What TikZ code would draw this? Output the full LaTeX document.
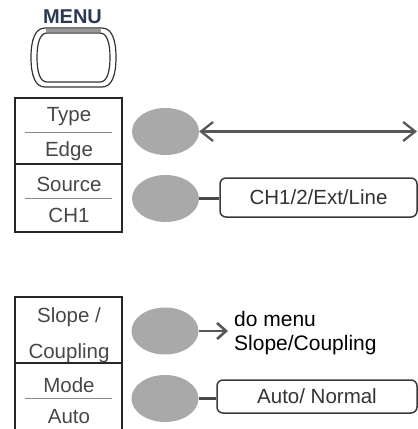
\documentclass[tikz,border=0pt]{standalone}
\usepackage{fontspec}
\setmainfont{Liberation Sans}
\usetikzlibrary{shapes.geometric,arrows.meta}
\definecolor{txtgray}{HTML}{474747}
\definecolor{txtdark}{HTML}{333333}
\definecolor{btngray}{HTML}{A9A9A9}
\definecolor{boxgray}{HTML}{3A3A3A}
\definecolor{linkgray}{HTML}{4A4A4A}
\definecolor{arrgray}{HTML}{575757}
\definecolor{sepgray}{HTML}{8A8A8A}
\definecolor{menublue}{HTML}{2B3A52}
\begin{document}
\begin{tikzpicture}[x=1pt,y=-1pt,
  boxtxt/.style={font=\fontsize{20.5}{24}\selectfont, text=txtgray, inner sep=0pt, anchor=base},
  btn/.style={ellipse, fill=btngray, draw=none, minimum width=67pt, minimum height=47pt, inner sep=0pt},
  choice/.style={draw=boxgray, line width=1.5pt, rounded corners=6pt, inner sep=0pt,
    font=\fontsize{20.5}{24}\selectfont, text=txtdark},
  link/.style={draw=linkgray, line width=3pt},
  arr/.style={draw=arrgray, line width=2.3pt},
  frame/.style={draw=black!85, line width=1.5pt},
  sep/.style={draw=sepgray, line width=1pt}]
\useasboundingbox (0,0) rectangle (418,429);

% MENU key
\node[font=\bfseries\fontsize{20}{22}\selectfont, text=menublue, inner sep=0pt, anchor=base] (menu) at (72.5,23) {MENU};
\draw[line width=1.2pt, draw=black!80]
  (45,28) -- (102,28) .. controls (112,28) and (116,40) .. (116,57.5)
  .. controls (116,75) and (112,87) .. (102,87) -- (45,87)
  .. controls (35,87) and (31,75) .. (31,57.5)
  .. controls (31,40) and (35,28) .. (45,28) -- cycle;
\draw[line width=1.2pt, draw=black!80]
  (47,33) -- (100,33) .. controls (107,33) and (110,43) .. (110,57.5)
  .. controls (110,72) and (107,82) .. (100,82) -- (47,82)
  .. controls (40,82) and (37,72) .. (37,57.5)
  .. controls (37,43) and (40,33) .. (47,33) -- cycle;
\draw[line width=3.5pt, draw=black!40] (46,30.5) -- (101,30.5);

% upper soft-key panel
\draw[frame] (15,98) rectangle (122,232);
\draw[frame] (15,164) -- (122,164);
\draw[sep] (25,132) -- (112,132);
\draw[sep] (25,198) -- (112,198);
\node[boxtxt] (type) at (69,121) {Type};
\node[boxtxt] (edge) at (69,156) {Edge};
\node[boxtxt] (source) at (69,191) {Source};
\node[boxtxt] (ch1) at (69,222) {CH1};

% lower soft-key panel
\draw[frame] (15,429) -- (15,297) -- (122,297) -- (122,429);
\draw[frame] (15,363) -- (122,363);
\draw[sep] (25,398) -- (112,398);
\node[boxtxt] (slope) at (69,322) {Slope /};
\node[boxtxt] (coupling) at (69,358) {Coupling};
\node[boxtxt] (mode) at (69,392) {Mode};
\node[boxtxt] (auto) at (69,423) {Auto};

% buttons
\node[btn] (e1) at (165.5,131.5) {};
\node[btn] (e2) at (165.5,198.5) {};
\node[btn] (e3) at (165,331) {};
\node[btn] (e4) at (165,398.5) {};

% option boxes
\node[choice, minimum width=197pt, minimum height=39pt] (src) at (318.5,197.5) {CH1/2/Ext/Line\hspace{13pt}};
\node[choice, minimum width=200pt, minimum height=33pt] (mod) at (317,396.5) {Auto/ Normal\hspace{27pt}};

% connectors
\coordinate (rend) at (417,131.5);
\draw[arr, {Straight Barb[length=12pt,width=19pt]}-{Straight Barb[length=12pt,width=19pt]}] (e1.east) -- (rend);
\draw[link] (e2.east) -- (e2.east -| src.west);
\draw[link] (e4.east) -- (e4.east -| mod.west);
\coordinate (stip) at (228,331);
\draw[arr, line width=2.6pt, -{Straight Barb[length=9pt,width=16pt]}] (e3.east) -- (stip);

% label
\node[font=\fontsize{21}{24}\selectfont, align=left, inner sep=0pt, anchor=west] (lbl) at (234,333) {do menu\\Slope/Coupling};
\end{tikzpicture}
\end{document}
